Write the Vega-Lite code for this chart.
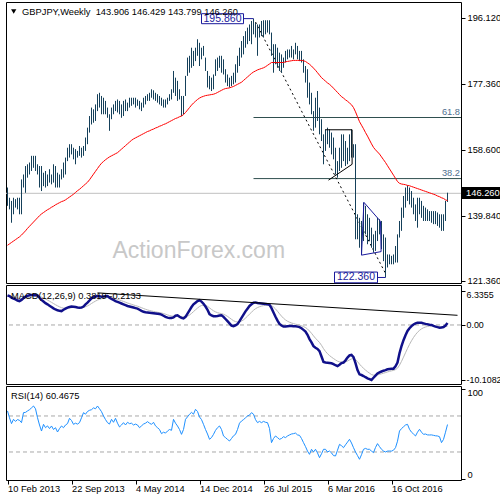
{
"$schema":"https://vega.github.io/schema/vega-lite/v6.json",
"padding":{"left":2,"top":1,"right":0,"bottom":0},
"bounds":"flush",
"background":"white",
"spacing":2,
"config":{"view":{"stroke":"black","strokeWidth":1},"font":"Liberation Sans","axis":{"labelFont":"Liberation Sans","labelFontSize":9.3,"labelColor":"black","tickColor":"black","domain":false,"grid":false}},
"datasets":{
"d":[
{"w":0,"h":147.9,"l":142.7,"ma":131.5,"m":5.45,"s":5.3,"r":75.6},
{"w":1,"h":145.0,"l":141.7,"ma":131.9,"m":5.3,"s":5.3,"r":68},
{"w":2,"h":144.1,"l":137.9,"ma":132.3,"m":5.0,"s":5.24,"r":61.5},
{"w":3,"h":145.0,"l":140.3,"ma":132.7,"m":4.85,"s":5.16,"r":66.3},
{"w":4,"h":144.6,"l":142.2,"ma":133.1,"m":4.7,"s":5.07,"r":64},
{"w":5,"h":145.0,"l":141.7,"ma":133.5,"m":4.5,"s":4.96,"r":66},
{"w":6,"h":145.0,"l":140.3,"ma":133.9,"m":4.4,"s":4.85,"r":65.2},
{"w":7,"h":150.2,"l":140.3,"ma":134.4,"m":4.6,"s":4.8,"r":62.6},
{"w":8,"h":151.6,"l":147.9,"ma":135.0,"m":4.95,"s":4.83,"r":73.7},
{"w":9,"h":154.0,"l":146.4,"ma":135.6,"m":5.2,"s":4.9,"r":74},
{"w":10,"h":154.5,"l":150.7,"ma":136.3,"m":5.35,"s":4.99,"r":75.6},
{"w":11,"h":155.0,"l":151.6,"ma":136.9,"m":5.45,"s":5.08,"r":77},
{"w":12,"h":156.9,"l":152.6,"ma":137.5,"m":5.5,"s":5.16,"r":79},
{"w":13,"h":156.9,"l":153.5,"ma":138.1,"m":5.5,"s":5.23,"r":81.1},
{"w":14,"h":156.9,"l":152.6,"ma":138.7,"m":5.48,"s":5.28,"r":78},
{"w":15,"h":154.5,"l":151.6,"ma":139.3,"m":5.45,"s":5.31,"r":68.1},
{"w":16,"h":154.0,"l":147.9,"ma":139.9,"m":5.0,"s":5.25,"r":60},
{"w":17,"h":154.0,"l":146.9,"ma":140.4,"m":4.6,"s":5.12,"r":53.3},
{"w":18,"h":152.1,"l":148.3,"ma":140.8,"m":4.3,"s":4.96,"r":60.7},
{"w":19,"h":152.6,"l":147.9,"ma":141.2,"m":4.0,"s":4.77,"r":57},
{"w":20,"h":151.6,"l":148.3,"ma":141.6,"m":3.8,"s":4.58,"r":59},
{"w":21,"h":153.1,"l":149.3,"ma":141.9,"m":3.55,"s":4.37,"r":56},
{"w":22,"h":151.6,"l":148.8,"ma":142.3,"m":3.3,"s":4.16,"r":58.9},
{"w":23,"h":154.5,"l":149.3,"ma":142.6,"m":3.05,"s":3.94,"r":55},
{"w":24,"h":154.0,"l":147.9,"ma":143.0,"m":2.85,"s":3.72,"r":57},
{"w":25,"h":152.1,"l":147.9,"ma":143.3,"m":2.7,"s":3.52,"r":52.2},
{"w":26,"h":151.6,"l":147.9,"ma":143.6,"m":2.6,"s":3.34,"r":56},
{"w":27,"h":153.1,"l":150.2,"ma":143.9,"m":2.55,"s":3.18,"r":58.9},
{"w":28,"h":155.0,"l":150.7,"ma":144.1,"m":2.8,"s":3.1,"r":57},
{"w":29,"h":156.4,"l":151.6,"ma":144.4,"m":3.0,"s":3.08,"r":60},
{"w":30,"h":159.2,"l":155.4,"ma":144.8,"m":3.2,"s":3.1,"r":61.5},
{"w":31,"h":160.2,"l":156.4,"ma":145.2,"m":3.3,"s":3.14,"r":67.4},
{"w":32,"h":160.2,"l":157.3,"ma":145.6,"m":3.4,"s":3.19,"r":65},
{"w":33,"h":159.2,"l":155.9,"ma":146.0,"m":3.37,"s":3.23,"r":60.7},
{"w":34,"h":158.8,"l":154.5,"ma":146.5,"m":3.3,"s":3.24,"r":62},
{"w":35,"h":158.3,"l":156.4,"ma":147.0,"m":3.2,"s":3.23,"r":61},
{"w":36,"h":159.7,"l":156.9,"ma":147.4,"m":3.15,"s":3.21,"r":62.6},
{"w":37,"h":159.2,"l":156.4,"ma":147.9,"m":3.19,"s":3.21,"r":68},
{"w":38,"h":159.7,"l":156.9,"ma":148.4,"m":3.4,"s":3.25,"r":73.7},
{"w":39,"h":162.1,"l":158.3,"ma":148.9,"m":3.8,"s":3.36,"r":72},
{"w":40,"h":164.9,"l":160.2,"ma":149.4,"m":4.1,"s":3.51,"r":75},
{"w":41,"h":168.2,"l":163.5,"ma":150.1,"m":4.5,"s":3.71,"r":76.3},
{"w":42,"h":170.6,"l":165.8,"ma":150.9,"m":4.9,"s":3.95,"r":77},
{"w":43,"h":170.1,"l":166.3,"ma":151.7,"m":5.1,"s":4.18,"r":79},
{"w":44,"h":171.5,"l":166.8,"ma":152.5,"m":5.25,"s":4.39,"r":78},
{"w":45,"h":174.4,"l":169.6,"ma":153.3,"m":5.33,"s":4.58,"r":81.1},
{"w":46,"h":174.8,"l":170.6,"ma":154.1,"m":5.3,"s":4.72,"r":78},
{"w":47,"h":173.9,"l":168.7,"ma":154.8,"m":5.21,"s":4.82,"r":74.8},
{"w":48,"h":173.4,"l":168.7,"ma":155.3,"m":5.25,"s":4.91,"r":70},
{"w":49,"h":172.5,"l":168.7,"ma":155.8,"m":5.3,"s":4.99,"r":66},
{"w":50,"h":170.6,"l":167.7,"ma":156.2,"m":5.33,"s":5.06,"r":62.6},
{"w":51,"h":168.7,"l":164.0,"ma":156.6,"m":5.0,"s":5.05,"r":61},
{"w":52,"h":170.6,"l":167.3,"ma":156.9,"m":4.8,"s":5.0,"r":66.3},
{"w":53,"h":171.5,"l":168.7,"ma":157.2,"m":4.6,"s":4.92,"r":63},
{"w":54,"h":172.5,"l":169.6,"ma":157.5,"m":4.4,"s":4.82,"r":67.4},
{"w":55,"h":172.9,"l":169.2,"ma":157.8,"m":4.25,"s":4.71,"r":62},
{"w":56,"h":172.5,"l":168.7,"ma":158.3,"m":4.1,"s":4.59,"r":57.8},
{"w":57,"h":171.5,"l":167.7,"ma":158.8,"m":3.95,"s":4.46,"r":60},
{"w":58,"h":172.5,"l":168.2,"ma":159.3,"m":3.8,"s":4.33,"r":62.6},
{"w":59,"h":172.9,"l":169.6,"ma":159.8,"m":3.65,"s":4.19,"r":60},
{"w":60,"h":172.0,"l":169.6,"ma":160.3,"m":3.5,"s":4.05,"r":63},
{"w":61,"h":173.4,"l":170.6,"ma":160.8,"m":3.4,"s":3.92,"r":61.5},
{"w":62,"h":173.4,"l":171.1,"ma":161.3,"m":3.3,"s":3.8,"r":62},
{"w":63,"h":173.4,"l":171.5,"ma":161.7,"m":3.2,"s":3.68,"r":60},
{"w":64,"h":173.4,"l":170.6,"ma":162.0,"m":3.1,"s":3.56,"r":61},
{"w":65,"h":172.9,"l":171.1,"ma":162.3,"m":3.0,"s":3.45,"r":60},
{"w":66,"h":172.5,"l":170.1,"ma":162.6,"m":2.8,"s":3.32,"r":57},
{"w":67,"h":172.0,"l":169.6,"ma":162.9,"m":2.6,"s":3.18,"r":59},
{"w":68,"h":173.4,"l":170.6,"ma":163.2,"m":2.42,"s":3.03,"r":61},
{"w":69,"h":173.9,"l":171.5,"ma":163.5,"m":2.35,"s":2.89,"r":62},
{"w":70,"h":174.4,"l":172.5,"ma":163.8,"m":2.3,"s":2.77,"r":63.7},
{"w":71,"h":174.8,"l":172.5,"ma":164.0,"m":2.25,"s":2.67,"r":62},
{"w":72,"h":175.8,"l":173.4,"ma":164.3,"m":2.2,"s":2.58,"r":60.7},
{"w":73,"h":175.5,"l":172.9,"ma":164.5,"m":2.15,"s":2.49,"r":63},
{"w":74,"h":174.8,"l":172.5,"ma":164.8,"m":2.1,"s":2.41,"r":59},
{"w":75,"h":174.4,"l":172.0,"ma":165.0,"m":2.05,"s":2.34,"r":57},
{"w":76,"h":173.9,"l":171.5,"ma":165.3,"m":2.0,"s":2.27,"r":55},
{"w":77,"h":173.4,"l":171.1,"ma":165.5,"m":1.9,"s":2.2,"r":50.4},
{"w":78,"h":172.9,"l":170.6,"ma":165.8,"m":1.7,"s":2.1,"r":52},
{"w":79,"h":172.9,"l":170.6,"ma":166.0,"m":1.5,"s":1.98,"r":51},
{"w":80,"h":173.4,"l":171.5,"ma":166.3,"m":1.35,"s":1.85,"r":53.3},
{"w":81,"h":174.4,"l":172.5,"ma":166.6,"m":1.3,"s":1.74,"r":55},
{"w":82,"h":175.8,"l":172.9,"ma":166.9,"m":1.3,"s":1.65,"r":54.1},
{"w":83,"h":181.0,"l":174.8,"ma":167.2,"m":1.4,"s":1.6,"r":66.3},
{"w":84,"h":179.1,"l":173.9,"ma":167.5,"m":1.7,"s":1.62,"r":62},
{"w":85,"h":178.2,"l":172.5,"ma":167.7,"m":1.78,"s":1.65,"r":58.9},
{"w":86,"h":175.8,"l":172.9,"ma":168.0,"m":1.5,"s":1.62,"r":55},
{"w":87,"h":173.9,"l":168.2,"ma":168.2,"m":1.3,"s":1.56,"r":49.6},
{"w":88,"h":173.9,"l":168.7,"ma":168.6,"m":1.2,"s":1.49,"r":55},
{"w":89,"h":179.6,"l":173.9,"ma":169.2,"m":1.5,"s":1.49,"r":66.3},
{"w":90,"h":184.8,"l":179.6,"ma":169.9,"m":2.1,"s":1.61,"r":69},
{"w":91,"h":185.3,"l":180.5,"ma":170.6,"m":2.7,"s":1.83,"r":71.9},
{"w":92,"h":187.6,"l":181.9,"ma":171.3,"m":3.3,"s":2.12,"r":74},
{"w":93,"h":186.7,"l":182.4,"ma":171.9,"m":3.8,"s":2.46,"r":72},
{"w":94,"h":187.6,"l":183.8,"ma":172.4,"m":4.1,"s":2.79,"r":77.4},
{"w":95,"h":190.0,"l":185.3,"ma":172.9,"m":4.4,"s":3.11,"r":75},
{"w":96,"h":189.0,"l":182.4,"ma":173.3,"m":4.55,"s":3.4,"r":68.9},
{"w":97,"h":187.6,"l":184.3,"ma":173.6,"m":4.3,"s":3.58,"r":66},
{"w":98,"h":188.1,"l":185.3,"ma":173.8,"m":3.9,"s":3.64,"r":60.7},
{"w":99,"h":184.8,"l":181.0,"ma":174.0,"m":3.4,"s":3.59,"r":55},
{"w":100,"h":181.0,"l":176.3,"ma":174.1,"m":2.8,"s":3.43,"r":50},
{"w":101,"h":179.6,"l":175.8,"ma":174.2,"m":2.0,"s":3.14,"r":44.1},
{"w":102,"h":179.1,"l":175.3,"ma":174.3,"m":1.75,"s":2.86,"r":46},
{"w":103,"h":180.0,"l":175.8,"ma":174.4,"m":1.6,"s":2.61,"r":49.6},
{"w":104,"h":184.3,"l":179.6,"ma":174.6,"m":1.6,"s":2.41,"r":54},
{"w":105,"h":184.8,"l":181.0,"ma":174.9,"m":1.66,"s":2.26,"r":57},
{"w":106,"h":185.3,"l":181.9,"ma":175.2,"m":1.75,"s":2.16,"r":58.9},
{"w":107,"h":185.3,"l":180.5,"ma":175.5,"m":1.8,"s":2.09,"r":55},
{"w":108,"h":184.3,"l":180.0,"ma":175.8,"m":1.5,"s":1.97,"r":47.8},
{"w":109,"h":181.5,"l":177.7,"ma":176.0,"m":1.1,"s":1.8,"r":46},
{"w":110,"h":180.0,"l":176.7,"ma":176.1,"m":0.7,"s":1.58,"r":44},
{"w":111,"h":179.1,"l":176.3,"ma":176.2,"m":0.3,"s":1.32,"r":42.2},
{"w":112,"h":179.6,"l":176.7,"ma":176.4,"m":-0.1,"s":1.04,"r":45},
{"w":113,"h":180.5,"l":177.2,"ma":176.6,"m":-0.2,"s":0.79,"r":48},
{"w":114,"h":182.9,"l":177.7,"ma":176.9,"m":-0.05,"s":0.62,"r":49.6},
{"w":115,"h":185.3,"l":180.5,"ma":177.2,"m":0.15,"s":0.53,"r":55},
{"w":116,"h":187.6,"l":182.4,"ma":177.5,"m":0.7,"s":0.56,"r":62},
{"w":117,"h":189.5,"l":184.8,"ma":177.8,"m":1.3,"s":0.71,"r":64.4},
{"w":118,"h":190.9,"l":185.7,"ma":178.3,"m":1.9,"s":0.95,"r":66},
{"w":119,"h":192.3,"l":187.6,"ma":178.8,"m":2.5,"s":1.26,"r":68},
{"w":120,"h":193.3,"l":188.6,"ma":179.3,"m":3.0,"s":1.61,"r":70},
{"w":121,"h":194.2,"l":189.5,"ma":179.8,"m":3.5,"s":1.99,"r":71},
{"w":122,"h":195.2,"l":188.6,"ma":180.3,"m":3.8,"s":2.35,"r":73.7},
{"w":123,"h":195.86,"l":191.4,"ma":180.7,"m":4.1,"s":2.7,"r":72},
{"w":124,"h":194.7,"l":190.5,"ma":181.0,"m":4.15,"s":2.99,"r":66},
{"w":125,"h":194.2,"l":185.3,"ma":181.3,"m":4.05,"s":3.2,"r":62.6},
{"w":126,"h":194.2,"l":190.5,"ma":181.5,"m":4.0,"s":3.36,"r":64},
{"w":127,"h":195.2,"l":190.9,"ma":181.7,"m":3.95,"s":3.48,"r":62.6},
{"w":128,"h":195.4,"l":190.5,"ma":181.9,"m":3.9,"s":3.56,"r":64},
{"w":129,"h":195.4,"l":191.4,"ma":182.2,"m":3.85,"s":3.62,"r":63},
{"w":130,"h":195.4,"l":191.9,"ma":182.6,"m":3.8,"s":3.66,"r":62.6},
{"w":131,"h":195.4,"l":191.4,"ma":183.0,"m":3.7,"s":3.67,"r":56},
{"w":132,"h":191.9,"l":185.3,"ma":183.4,"m":3.1,"s":3.56,"r":40.4},
{"w":133,"h":188.6,"l":180.5,"ma":183.4,"m":2.3,"s":3.31,"r":45},
{"w":134,"h":188.6,"l":182.9,"ma":183.4,"m":1.5,"s":2.95,"r":47.8},
{"w":135,"h":187.6,"l":181.9,"ma":183.4,"m":0.8,"s":2.52,"r":46},
{"w":136,"h":186.2,"l":181.0,"ma":183.4,"m":0.2,"s":2.06,"r":44.1},
{"w":137,"h":185.7,"l":180.5,"ma":183.4,"m":-0.1,"s":1.63,"r":45},
{"w":138,"h":184.8,"l":181.9,"ma":183.4,"m":-0.3,"s":1.24,"r":47},
{"w":139,"h":186.7,"l":183.4,"ma":183.6,"m":-0.3,"s":0.93,"r":46},
{"w":140,"h":187.1,"l":184.3,"ma":183.7,"m":-0.25,"s":0.69,"r":47.8},
{"w":141,"h":187.1,"l":184.8,"ma":183.8,"m":-0.2,"s":0.51,"r":49},
{"w":142,"h":188.1,"l":184.8,"ma":183.9,"m":-0.2,"s":0.37,"r":50},
{"w":143,"h":187.1,"l":184.3,"ma":184.0,"m":-0.25,"s":0.25,"r":50.4},
{"w":144,"h":189.0,"l":185.7,"ma":184.0,"m":-0.25,"s":0.15,"r":51},
{"w":145,"h":188.1,"l":184.3,"ma":184.0,"m":-0.3,"s":0.06,"r":49},
{"w":146,"h":186.7,"l":183.8,"ma":184.0,"m":-0.4,"s":-0.03,"r":48.5},
{"w":147,"h":186.7,"l":183.4,"ma":184.0,"m":-0.6,"s":-0.14,"r":45},
{"w":148,"h":184.3,"l":180.5,"ma":183.9,"m":-0.9,"s":-0.29,"r":40.4},
{"w":149,"h":182.4,"l":177.7,"ma":183.7,"m":-1.2,"s":-0.47,"r":36},
{"w":150,"h":181.5,"l":173.4,"ma":183.3,"m":-1.8,"s":-0.74,"r":31},
{"w":151,"h":177.7,"l":171.5,"ma":182.9,"m":-2.6,"s":-1.11,"r":27.4},
{"w":152,"h":174.8,"l":168.7,"ma":182.4,"m":-3.2,"s":-1.53,"r":33},
{"w":153,"h":169.6,"l":164.0,"ma":181.8,"m":-3.9,"s":-2.0,"r":30},
{"w":154,"h":173.4,"l":164.9,"ma":181.2,"m":-4.2,"s":-2.44,"r":33},
{"w":155,"h":175.3,"l":166.8,"ma":180.5,"m":-4.4,"s":-2.83,"r":29},
{"w":156,"h":170.6,"l":163.0,"ma":179.8,"m":-4.8,"s":-3.22,"r":23.7},
{"w":157,"h":167.3,"l":161.1,"ma":179.1,"m":-5.8,"s":-3.74,"r":28},
{"w":158,"h":163.0,"l":154.5,"ma":178.6,"m":-6.8,"s":-4.35,"r":33},
{"w":159,"h":164.4,"l":158.3,"ma":178.1,"m":-6.9,"s":-4.86,"r":33},
{"w":160,"h":164.9,"l":160.2,"ma":177.6,"m":-6.95,"s":-5.28,"r":30},
{"w":161,"h":164.4,"l":159.2,"ma":177.2,"m":-7.0,"s":-5.62,"r":31.1},
{"w":162,"h":163.5,"l":157.3,"ma":176.7,"m":-7.05,"s":-5.91,"r":29},
{"w":163,"h":162.1,"l":155.9,"ma":176.1,"m":-7.2,"s":-6.17,"r":26},
{"w":164,"h":159.2,"l":151.6,"ma":175.5,"m":-7.4,"s":-6.42,"r":25.6},
{"w":165,"h":155.4,"l":150.7,"ma":174.9,"m":-7.55,"s":-6.65,"r":32},
{"w":166,"h":159.2,"l":152.6,"ma":174.3,"m":-7.3,"s":-6.78,"r":38.5},
{"w":167,"h":163.0,"l":153.5,"ma":173.7,"m":-7.0,"s":-6.82,"r":37},
{"w":168,"h":163.0,"l":155.4,"ma":173.3,"m":-6.9,"s":-6.84,"r":34.8},
{"w":169,"h":161.1,"l":154.0,"ma":172.8,"m":-6.5,"s":-6.77,"r":38},
{"w":170,"h":159.2,"l":154.5,"ma":172.4,"m":-6.0,"s":-6.62,"r":41},
{"w":171,"h":163.0,"l":155.4,"ma":171.9,"m":-5.6,"s":-6.42,"r":44.1},
{"w":172,"h":164.4,"l":156.4,"ma":171.4,"m":-5.5,"s":-6.24,"r":40},
{"w":173,"h":160.2,"l":156.4,"ma":170.6,"m":-5.9,"s":-6.17,"r":34.8},
{"w":174,"h":160.2,"l":133.2,"ma":169.4,"m":-7.0,"s":-6.34,"r":30},
{"w":175,"h":140.3,"l":133.2,"ma":168.0,"m":-8.3,"s":-6.73,"r":26},
{"w":176,"h":139.3,"l":130.8,"ma":166.6,"m":-9.07,"s":-7.2,"r":21.9},
{"w":177,"h":138.4,"l":128.9,"ma":165.6,"m":-9.2,"s":-7.6,"r":27},
{"w":178,"h":143.6,"l":132.7,"ma":164.6,"m":-9.38,"s":-7.96,"r":33},
{"w":179,"h":142.7,"l":134.6,"ma":163.5,"m":-9.6,"s":-8.29,"r":34},
{"w":180,"h":140.3,"l":131.8,"ma":162.5,"m":-9.8,"s":-8.59,"r":33},
{"w":181,"h":139.3,"l":132.7,"ma":161.4,"m":-9.95,"s":-8.86,"r":33},
{"w":182,"h":136.5,"l":130.8,"ma":160.3,"m":-10.1,"s":-9.11,"r":31},
{"w":183,"h":134.6,"l":129.4,"ma":159.3,"m":-9.7,"s":-9.23,"r":29.3},
{"w":184,"h":135.6,"l":129.9,"ma":158.6,"m":-9.3,"s":-9.24,"r":35},
{"w":185,"h":139.3,"l":132.7,"ma":158.0,"m":-8.9,"s":-9.17,"r":39.3},
{"w":186,"h":138.9,"l":134.6,"ma":157.4,"m":-8.7,"s":-9.08,"r":36},
{"w":187,"h":138.4,"l":130.4,"ma":156.6,"m":-8.55,"s":-8.97,"r":33},
{"w":188,"h":134.6,"l":127.0,"ma":155.8,"m":-8.4,"s":-8.86,"r":31.1},
{"w":189,"h":133.7,"l":122.36,"ma":155.0,"m":-8.3,"s":-8.75,"r":30},
{"w":190,"h":128.9,"l":125.2,"ma":154.1,"m":-8.15,"s":-8.63,"r":31},
{"w":191,"h":128.9,"l":126.1,"ma":153.2,"m":-8.1,"s":-8.52,"r":31.1},
{"w":192,"h":128.5,"l":126.1,"ma":152.3,"m":-8.05,"s":-8.43,"r":31},
{"w":193,"h":128.9,"l":126.1,"ma":151.4,"m":-8.03,"s":-8.35,"r":32},
{"w":194,"h":131.3,"l":126.6,"ma":150.5,"m":-7.6,"s":-8.2,"r":34.8},
{"w":195,"h":134.6,"l":126.6,"ma":149.6,"m":-6.9,"s":-7.94,"r":42},
{"w":196,"h":138.4,"l":133.7,"ma":149.1,"m":-5.2,"s":-7.39,"r":53.3},
{"w":197,"h":142.2,"l":135.6,"ma":148.9,"m":-3.9,"s":-6.69,"r":56},
{"w":198,"h":145.5,"l":139.3,"ma":148.8,"m":-2.8,"s":-5.91,"r":58},
{"w":199,"h":147.9,"l":142.2,"ma":148.7,"m":-1.9,"s":-5.11,"r":60},
{"w":200,"h":148.5,"l":144.1,"ma":148.5,"m":-1.1,"s":-4.31,"r":60.7},
{"w":201,"h":147.9,"l":143.1,"ma":148.4,"m":-0.6,"s":-3.57,"r":55.2},
{"w":202,"h":146.9,"l":142.2,"ma":148.2,"m":-0.2,"s":-2.9,"r":52},
{"w":203,"h":145.0,"l":140.3,"ma":148.0,"m":0.1,"s":-2.3,"r":50},
{"w":204,"h":143.1,"l":138.4,"ma":147.8,"m":0.3,"s":-1.78,"r":47.8},
{"w":205,"h":145.0,"l":136.5,"ma":147.6,"m":0.4,"s":-1.34,"r":52},
{"w":206,"h":145.0,"l":140.3,"ma":147.4,"m":0.43,"s":-0.99,"r":55.2},
{"w":207,"h":144.1,"l":139.3,"ma":147.2,"m":0.4,"s":-0.71,"r":52},
{"w":208,"h":142.7,"l":138.4,"ma":147.0,"m":0.3,"s":-0.51,"r":49.6},
{"w":209,"h":142.2,"l":138.4,"ma":146.8,"m":0.2,"s":-0.37,"r":50},
{"w":210,"h":141.7,"l":138.4,"ma":146.6,"m":0.12,"s":-0.27,"r":49},
{"w":211,"h":141.2,"l":138.4,"ma":146.4,"m":0.05,"s":-0.21,"r":48.9},
{"w":212,"h":141.2,"l":137.9,"ma":146.2,"m":0.0,"s":-0.17,"r":49},
{"w":213,"h":141.2,"l":137.5,"ma":146.0,"m":-0.18,"s":-0.17,"r":48.5},
{"w":214,"h":141.2,"l":137.5,"ma":145.8,"m":-0.3,"s":-0.2,"r":48},
{"w":215,"h":140.8,"l":137.0,"ma":145.5,"m":-0.4,"s":-0.24,"r":47.8},
{"w":216,"h":140.3,"l":136.5,"ma":145.3,"m":-0.49,"s":-0.29,"r":47},
{"w":217,"h":140.3,"l":135.6,"ma":145.0,"m":-0.45,"s":-0.32,"r":40.4},
{"w":218,"h":140.3,"l":135.6,"ma":144.8,"m":-0.37,"s":-0.33,"r":44},
{"w":219,"h":144.1,"l":138.4,"ma":144.4,"m":-0.1,"s":-0.28,"r":52},
{"w":220,"h":146.43,"l":143.8,"ma":144.2,"m":0.38,"s":-0.21,"r":60.5}
],
"fib":[{"lv":"61.8","p":167.78,"a":123,"b":226.75},{"lv":"38.2","p":150.44,"a":123,"b":226.75}],
"trend":[{"w":124,"p":194.9},{"w":189,"p":123.5}],
"pat":[
{"g":"k","o":1,"w":158.9,"p":164.3},{"g":"k","o":2,"w":172.3,"p":164.3},{"g":"k","o":3,"w":172.3,"p":154.5},{"g":"k","o":4,"w":160.5,"p":150.0},
{"g":"n","o":1,"w":177,"p":128.7},{"g":"n","o":2,"w":178.2,"p":143.7},{"g":"n","o":3,"w":186.5,"p":138.3},{"g":"n","o":4,"w":186.8,"p":129.7},{"g":"n","o":5,"w":177,"p":128.7}
],
"boxes":[{"t":"195.860","a":97,"b":118,"y1":197.26,"y2":194.42,"c":107.5,"p":195.86},{"t":"122.360","a":163.5,"b":185,"y1":123.9,"y2":120.85,"c":174.25,"p":122.36}],
"conn":[{"g":1,"w":118,"p":195.86},{"g":1,"w":123,"p":195.86},{"g":2,"w":185,"p":122.36},{"g":2,"w":189,"p":122.36}]
},
"vconcat":[
{
"width":455,"height":281,
"layer":[
{"data":{"values":[{"p":146.26}]},"mark":{"type":"rule","color":"#c0c0c0","strokeWidth":1},
 "encoding":{"y":{"field":"p","type":"quantitative","title":null}}},
{"data":{"name":"fib"},"mark":{"type":"rule","color":"#2f4f4f","strokeWidth":1},
 "encoding":{"x":{"field":"a","type":"quantitative","axis":null,"title":null},"x2":{"field":"b"},"y":{"field":"p","type":"quantitative","title":null}}},
{"data":{"name":"fib"},"mark":{"type":"text","align":"right","baseline":"bottom","dx":-1,"dy":-1,"fontSize":9.3,"color":"#4f6f8f"},
 "encoding":{"x":{"field":"b","type":"quantitative","axis":null,"title":null},"y":{"field":"p","type":"quantitative","title":null},"text":{"field":"lv"}}},
{"data":{"name":"trend"},"mark":{"type":"line","color":"black","strokeWidth":1,"strokeDash":[2,3]},
 "encoding":{"x":{"field":"w","type":"quantitative","axis":null,"title":null},"y":{"field":"p","type":"quantitative","title":null}}},
{"data":{"name":"d"},"mark":{"type":"rule","color":"#15405a","strokeWidth":1},
 "encoding":{"x":{"field":"w","type":"quantitative","scale":{"domain":[-0.75,226.75],"nice":false,"zero":false},"axis":null,"title":null},
  "y":{"field":"l","type":"quantitative","title":null,"scale":{"domain":[120.79,200.58],"nice":false,"zero":false},
   "axis":{"orient":"right","values":[121.36,130.6,139.84,149.36,158.6,167.84,177.36,186.6,196.12],"format":".3f","tickSize":4,"labelPadding":2,"title":null}},
  "y2":{"field":"h"}}},
{"data":{"name":"d"},"mark":{"type":"line","color":"#ff0000","strokeWidth":1},
 "encoding":{"x":{"field":"w","type":"quantitative","axis":null,"title":null},"y":{"field":"ma","type":"quantitative","title":null}}},
{"data":{"name":"pat"},"mark":{"type":"line","strokeWidth":1},
 "encoding":{"x":{"field":"w","type":"quantitative","axis":null,"title":null},"y":{"field":"p","type":"quantitative","title":null},
  "detail":{"field":"g"},"order":{"field":"o"},
  "color":{"field":"g","type":"nominal","scale":{"domain":["k","n"],"range":["black","#1a1a9c"]},"legend":null}}},
{"data":{"name":"conn"},"mark":{"type":"line","color":"#1a1a9c","strokeWidth":1},
 "encoding":{"x":{"field":"w","type":"quantitative","axis":null,"title":null},"y":{"field":"p","type":"quantitative","title":null},"detail":{"field":"g"}}},
{"data":{"name":"boxes"},"mark":{"type":"rect","fill":"white","stroke":"#1a1a9c","strokeWidth":1},
 "encoding":{"x":{"field":"a","type":"quantitative","axis":null,"title":null},"x2":{"field":"b"},"y":{"field":"y1","type":"quantitative","title":null},"y2":{"field":"y2"}}},
{"data":{"name":"boxes"},"mark":{"type":"text","align":"center","baseline":"middle","fontSize":10.5,"color":"#1a1a9c"},
 "encoding":{"x":{"field":"c","type":"quantitative","axis":null,"title":null},"y":{"field":"p","type":"quantitative","title":null},"text":{"field":"t"}}},
{"data":{"values":[{"t":"ActionForex.com"}]},"mark":{"type":"text","align":"left","baseline":"alphabetic","fontSize":23,"color":"#c8c8c8"},
 "encoding":{"x":{"datum":52.5},"y":{"datum":127.9},"text":{"field":"t"}}},
{"data":{"values":[{"t":"GBPJPY,Weekly\u00a0\u00a0143.906 146.429 143.799 146.260"}]},"mark":{"type":"text","align":"left","baseline":"middle","fontSize":9.3,"color":"black"},
 "encoding":{"x":{"datum":7.3},"y":{"datum":197.74},"text":{"field":"t"}}},
{"data":{"values":[{"t":"tri"}]},"mark":{"type":"point","shape":"triangle-down","filled":true,"color":"black","size":28,"opacity":1},
 "encoding":{"x":{"datum":3.1},"y":{"datum":197.9}}},
{"data":{"values":[{"t":"146.260"}]},"mark":{"type":"rect","fill":"black"},
 "encoding":{"x":{"datum":227.25},"x2":{"datum":248.5},"y":{"datum":148.05},"y2":{"datum":144.64}}},
{"data":{"values":[{"t":"146.260"}]},"mark":{"type":"text","align":"left","baseline":"middle","fontSize":9.3,"color":"white"},
 "encoding":{"x":{"datum":229.3},"y":{"datum":146.26},"text":{"field":"t"}}}
]
},
{
"width":455,"height":99,
"layer":[
{"data":{"values":[{"v":0}]},"mark":{"type":"rule","color":"#a8a8a8","strokeWidth":1,"strokeDash":[4,3]},
 "encoding":{"y":{"field":"v","type":"quantitative","title":null}}},
{"data":{"name":"d"},"mark":{"type":"line","color":"#b8b8b8","strokeWidth":1},
 "encoding":{"x":{"field":"w","type":"quantitative","scale":{"domain":[-0.75,226.75],"nice":false,"zero":false},"axis":null,"title":null},
  "y":{"field":"s","type":"quantitative","title":null,"scale":{"domain":[-10.85,7.35],"nice":false,"zero":false},
   "axis":{"orient":"right","values":[-10.1082,0,6.3355],"labelExpr":"datum.value == 0 ? '0.00' : (datum.value < 0 ? '-10.1082' : '6.3355')","tickSize":4,"labelPadding":1,"labelFontSize":8.9,"title":null,
    "labelBaseline":{"condition":{"test":"datum.value > 5","value":"top"},"value":"middle"}}}}},
{"data":{"name":"d"},"mark":{"type":"line","color":"#10108a","strokeWidth":2.5},
 "encoding":{"x":{"field":"w","type":"quantitative","axis":null,"title":null},"y":{"field":"m","type":"quantitative","title":null}}},
{"data":{"values":[{"w":45,"v":5.9},{"w":225,"v":1.78}]},"mark":{"type":"line","color":"black","strokeWidth":1},
 "encoding":{"x":{"field":"w","type":"quantitative","axis":null,"title":null},"y":{"field":"v","type":"quantitative","title":null}}},
{"data":{"values":[{"t":"MACD(12,26,9) 0.3819 -0.2133"}]},"mark":{"type":"text","align":"left","baseline":"middle","fontSize":9.3,"color":"black"},
 "encoding":{"x":{"datum":1.8},"y":{"datum":5.33},"text":{"field":"t"}}}
]
},
{
"width":455,"height":94,
"layer":[
{"data":{"values":[{"v":70},{"v":30}]},"mark":{"type":"rule","color":"#a8a8a8","strokeWidth":1,"strokeDash":[4,3]},
 "encoding":{"y":{"field":"v","type":"quantitative","title":null}}},
{"data":{"name":"d"},"mark":{"type":"line","color":"#1e90ff","strokeWidth":1},
 "encoding":{"x":{"field":"w","type":"quantitative","scale":{"domain":[-0.75,226.75],"nice":false,"zero":false},"title":null,
   "axis":{"orient":"bottom","values":[0,32,64,96,128,160,192],"labelExpr":"['10 Feb 2013','22 Sep 2013','4 May 2014','14 Dec 2014','26 Jul 2015','6 Mar 2016','16 Oct 2016'][round(datum.value/32)]","labelAlign":"left","labelPadding":0,"tickSize":4,"labelFlush":false,"labelOverlap":false,"title":null}},
  "y":{"field":"r","type":"quantitative","title":null,"scale":{"domain":[-1.1,103.3],"nice":false,"zero":false},
   "axis":{"orient":"right","values":[0,30,70,100],"format":"d","tickSize":4,"labelPadding":2,"title":null,
    "labelBaseline":{"condition":[{"test":"datum.value == 100","value":"top"},{"test":"datum.value == 0","value":"bottom"}],"value":"middle"}}}}},
{"data":{"values":[{"t":"RSI(14) 60.4675"}]},"mark":{"type":"text","align":"left","baseline":"middle","fontSize":9.3,"color":"black"},
 "encoding":{"x":{"datum":1.8},"y":{"datum":92.2},"text":{"field":"t"}}}
]
}
]
}
